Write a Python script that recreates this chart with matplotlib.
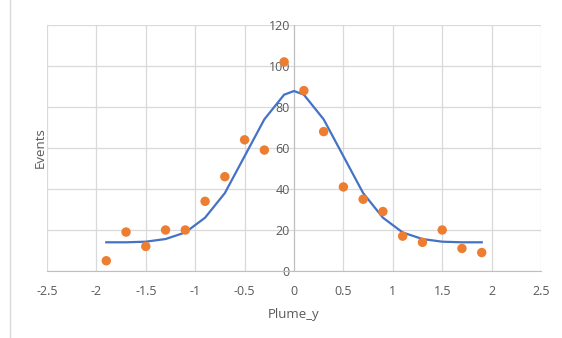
import numpy as np
import matplotlib.pyplot as plt
from matplotlib.lines import Line2D

plt.rcParams['font.family'] = ['Open Sans', 'DejaVu Sans']

# measured events
plume_y = [-1.9, -1.7, -1.5, -1.3, -1.1, -0.9, -0.7, -0.5, -0.3, -0.1,
           0.1, 0.3, 0.5, 0.7, 0.9, 1.1, 1.3, 1.5, 1.7, 1.9]
events = [5, 19, 12, 20, 20, 34, 46, 64, 59, 102,
          88, 68, 41, 35, 29, 17, 14, 20, 11, 9]

# fitted curve
fit_x = [-1.9, -1.7, -1.5, -1.3, -1.1, -0.9, -0.7, -0.5, -0.3, -0.1, 0,
         0.1, 0.3, 0.5, 0.7, 0.9, 1.1, 1.3, 1.5, 1.7, 1.9]
fit_y = [14, 14, 14.3, 15.6, 18.8, 26, 38, 56, 74, 86, 87.8,
         86, 74, 56, 38, 26, 18.8, 15.6, 14.3, 14, 14]

fig = plt.figure(figsize=(5.62, 3.38), dpi=100)
ax = fig.add_axes([47/562, 1 - 271/338, (541 - 47)/562, (271 - 25)/338])

ax.plot(fit_x, fit_y, color='#4472c4', lw=1.6, zorder=3)
ax.scatter(plume_y, events, s=46, color='#ed7d31', edgecolors='none', zorder=4)

ax.set_xlim(-2.5, 2.5)
ax.set_ylim(0, 120)
ax.set_xticks(np.arange(-2.5, 2.51, 0.5))
ax.set_xticklabels(['-2.5', '-2', '-1.5', '-1', '-0.5', '0', '0.5', '1', '1.5', '2', '2.5'])
ax.set_yticks(np.arange(0, 121, 20))
ax.grid(True, color='#d9d9d9', lw=0.9)
ax.set_axisbelow(True)

for s in ['top', 'right']:
    ax.spines[s].set_visible(False)
ax.spines['left'].set_position(('data', 0))
ax.spines['left'].set_color('#bfbfbf')
ax.spines['bottom'].set_color('#bfbfbf')
ax.tick_params(length=0, labelsize=9, labelcolor='#595959')
ax.tick_params(axis='x', pad=10)
ax.tick_params(axis='y', pad=3)

ax.set_xlabel('Plume_y', fontsize=9.5, color='#595959', labelpad=7)
fig.text(40/562, 1 - 148/338, 'Events', rotation=90, fontsize=9.5,
         color='#595959', ha='center', va='center')

fig.add_artist(Line2D([10/562, 10/562], [0, 1], color='#d9d9d9', lw=1))

fig.savefig('out.png', dpi=100)
